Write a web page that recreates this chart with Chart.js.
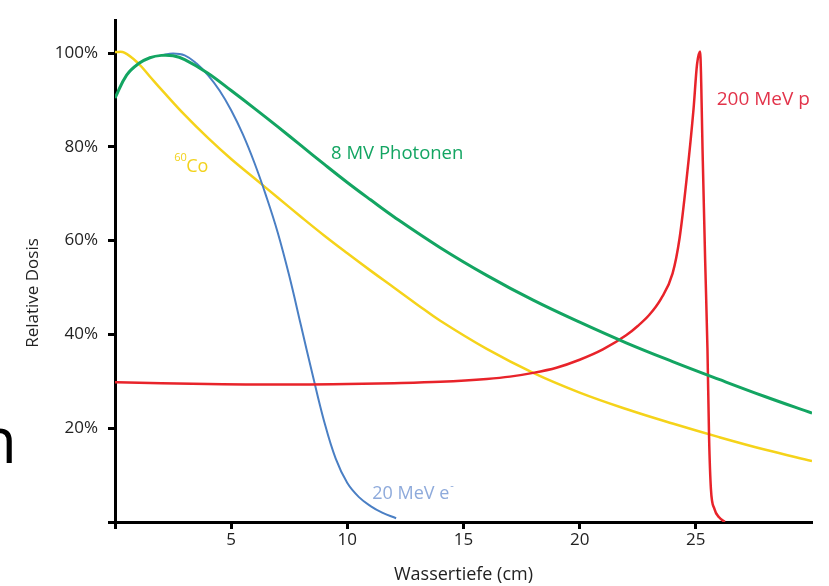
<!DOCTYPE html>
<html>
<head>
<meta charset="utf-8">
<script src="https://cdn.jsdelivr.net/npm/chart.js@4.4.0/dist/chart.umd.min.js"></script>
<style>
  html, body { margin: 0; padding: 0; background: #fff; }
  #wrap { width: 829px; height: 586px; }
</style>
</head>
<body>
<div id="wrap"><canvas id="grafico" width="829" height="586"></canvas></div>
<script>
// Tiefendosiskurven: Wassertiefe (cm) -> relative Dosis (%)
const xTicks = [0, 5, 10, 15, 20, 25]
const yTicks = [0, 20, 40, 60, 80, 100]

// 8 MV Photonen
const phX = [0, 0.5, 1, 1.5, 2, 2.5, 3, 4, 5, 6, 7, 8, 9, 10, 11, 12, 14, 16, 18, 20, 22, 24, 26, 28, 30]
const phY = [90.4, 95.3, 97.7, 99, 99.5, 99.4, 98.6, 95.7, 92, 88.2, 84.3, 80.3, 76.3, 72.4, 68.7, 65.1, 58.5, 52.6, 47.3, 42.6, 38.2, 34.2, 30.4, 26.7, 23.2]

// 60Co
const coX = [0, 0.4, 1, 1.5, 2, 3, 4, 5, 6, 7, 8, 9, 10, 11, 12, 13, 14, 16, 18, 20, 22, 24, 26, 28, 30]
const coY = [100.2, 100.1, 97.8, 95, 92.2, 86.8, 81.9, 77.4, 73.3, 69.2, 65.1, 61.1, 57.3, 53.6, 50, 46.4, 42.9, 36.9, 31.8, 27.6, 24.1, 21, 18.1, 15.4, 13]

// 20 MeV Elektronen
const elX = [2, 2.5, 3, 3.5, 4, 4.5, 5, 5.5, 6, 6.5, 7, 7.5, 8, 8.5, 9, 9.5, 10, 10.5, 11, 11.5, 12.1]
const elY = [99.5, 99.9, 99.5, 97.8, 95.3, 92, 87.8, 82.7, 76.6, 69.6, 61.8, 52.5, 42, 31.5, 21.5, 13.5, 8.3, 5.3, 3.4, 2, 0.8]

// 200 MeV Protonen
const prX = [0, 2, 4, 6, 8, 10, 12, 14, 16, 17, 18, 19, 20, 21, 22, 22.5, 23, 23.5, 24, 24.3, 24.6, 24.9, 25.05, 25.18, 25.3, 25.4, 25.5, 25.57, 25.65, 25.8, 26, 26.25]
const prY = [29.8, 29.6, 29.4, 29.3, 29.3, 29.4, 29.6, 29.9, 30.5, 31, 31.8, 32.9, 34.6, 36.8, 39.8, 41.8, 44.2, 47.6, 53, 60.5, 73, 88, 97.5, 100.3, 77, 56, 37, 18, 7, 2.8, 1, 0]

const schrift = "'Open Sans', sans-serif"

function punkte(xs, ys) {
    return xs.map((x, i) => ({ x: x, y: ys[i] }))
}

// Beschriftungen direkt an den Kurven
const beschriftung = {
    id: 'beschriftung',
    afterDatasetsDraw(chart) {
        const c = chart.ctx
        const sx = chart.scales.x
        const sy = chart.scales.y
        c.save()
        c.textBaseline = 'middle'
        c.textAlign = 'left'

        c.fillStyle = '#13a562'
        c.font = '18.5px ' + schrift
        c.fillText('8 MV Photonen', sx.getPixelForValue(9.3), sy.getPixelForValue(78.6))

        c.fillStyle = '#f2d21c'
        c.font = '11px ' + schrift
        c.fillText('60', sx.getPixelForValue(2.55), sy.getPixelForValue(77.6))
        c.font = '18px ' + schrift
        c.fillText('Co', sx.getPixelForValue(2.55) + 12, sy.getPixelForValue(75.8))

        c.fillStyle = '#8eaadb'
        c.font = '18px ' + schrift
        c.fillText('20 MeV e', sx.getPixelForValue(11.07), sy.getPixelForValue(5.9))
        let w = c.measureText('20 MeV e').width
        c.font = '11px ' + schrift
        c.fillText('-', sx.getPixelForValue(11.07) + w + 1, sy.getPixelForValue(7.8))

        c.fillStyle = '#e2334a'
        c.font = '19px ' + schrift
        c.fillText('200 MeV p', sx.getPixelForValue(25.9), sy.getPixelForValue(90.1))

        // Achsentitel y
        c.fillStyle = '#222'
        c.font = '17px ' + schrift
        c.translate(33, 293)
        c.rotate(-Math.PI / 2)
        c.textAlign = 'center'
        c.fillText('Relative Dosis', 0, 0)
        c.restore()

        // abgeschnittener Buchstabe links (Folienrest)
        c.save()
        c.fillStyle = '#000'
        c.font = '64px ' + schrift
        c.textAlign = 'right'
        c.textBaseline = 'alphabetic'
        c.fillText('n', 17, 463)
        c.restore()
    }
}

const ctx = document.getElementById('grafico').getContext('2d')
const grafico = new Chart(ctx, {
    type: 'line',
    data: {
        datasets: [
            { label: '8 MV Photonen', data: punkte(phX, phY), borderColor: '#13a562', borderWidth: 3, tension: 0.4 },
            { label: '200 MeV p', data: punkte(prX, prY), borderColor: '#e8232a', borderWidth: 2.5, cubicInterpolationMode: 'monotone', borderJoinStyle: 'round' },
            { label: '20 MeV e-', data: punkte(elX, elY), borderColor: '#4a7fc4', borderWidth: 2, tension: 0.4 },
            { label: '60Co', data: punkte(coX, coY), borderColor: '#f5d31a', borderWidth: 2.5, tension: 0.4 }
        ]
    },
    options: {
        responsive: false,
        animation: false,
        layout: { padding: { top: 10, right: 17, bottom: 0, left: 0 } },
        elements: {
            point: { radius: 0 },
            line: { fill: false }
        },
        plugins: {
            legend: { display: false },
            tooltip: { enabled: false }
        },
        scales: {
            x: {
                type: 'linear',
                min: 0,
                max: 30,
                afterBuildTicks: s => { s.ticks = xTicks.map(v => ({ value: v })) },
                afterFit: s => { s.height = 64 },
                ticks: {
                    callback: v => v === 0 ? '' : String(v),
                    color: '#222',
                    font: { family: schrift, size: 17 },
                    padding: 1,
                    maxRotation: 0,
                    autoSkip: false
                },
                grid: { drawOnChartArea: false, drawTicks: true, tickLength: 7, tickWidth: 3, tickColor: '#000' },
                border: { color: '#000', width: 3 },
                title: {
                    display: true,
                    text: 'Wassertiefe (cm)',
                    color: '#222',
                    font: { family: schrift, size: 18 },
                    padding: { top: 0, bottom: 0 }
                }
            },
            y: {
                min: 0,
                max: 107,
                afterBuildTicks: s => { s.ticks = yTicks.map(v => ({ value: v })) },
                afterFit: s => { s.width = 115 },
                ticks: {
                    callback: v => v === 0 ? '' : v + '%',
                    color: '#222',
                    font: { family: schrift, size: 17 },
                    padding: 10
                },
                grid: { drawOnChartArea: false, drawTicks: true, tickLength: 7, tickWidth: 3, tickColor: '#000' },
                border: { color: '#000', width: 3 }
            }
        }
    },
    plugins: [beschriftung]
})
</script>
</body>
</html>
